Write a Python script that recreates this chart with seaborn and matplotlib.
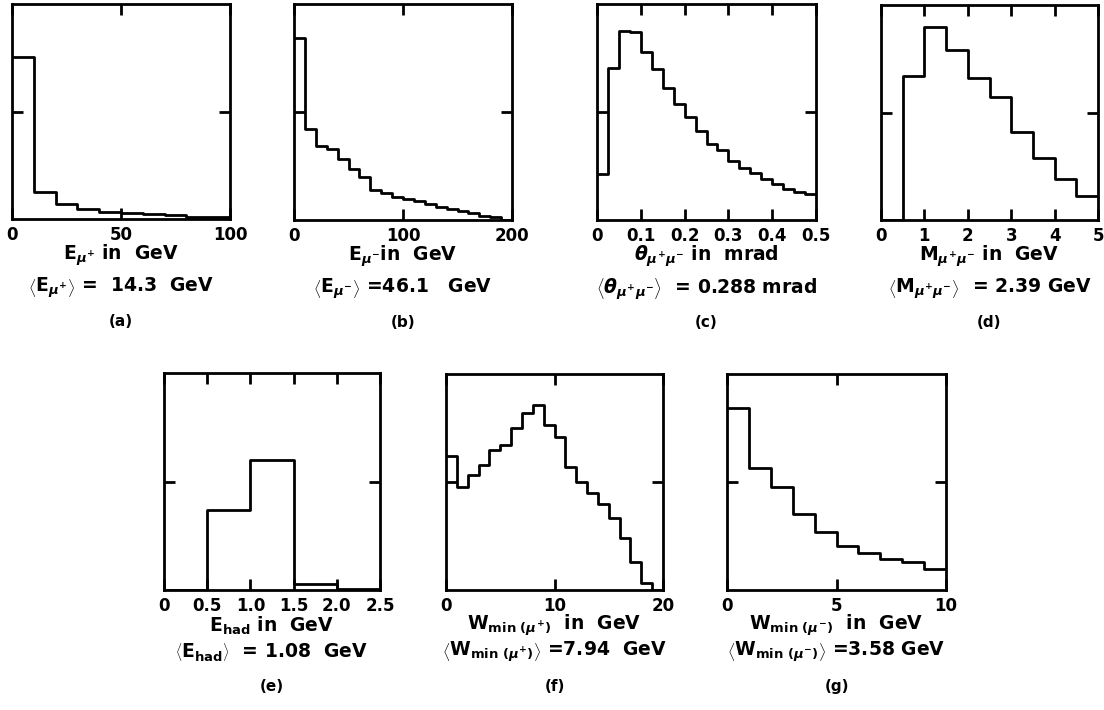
import numpy as np
import pandas as pd
import matplotlib
matplotlib.use("Agg")
import matplotlib.pyplot as plt
import seaborn as sns

# bin edges and (relative) bin contents, frame height = 100
a_edges = [0, 10, 20, 30, 40, 50, 60, 70, 80, 90, 100]
a_counts = [75.5, 12.5, 6.8, 4.5, 3.4, 2.6, 2.3, 1.9, 0.9, 0.7]

b_edges = [0, 10, 20, 30, 40, 50, 60, 70, 80, 90, 100,
           110, 120, 130, 140, 150, 160, 170, 180, 190, 200]
b_counts = [84.1, 42.0, 34.4, 32.7, 28.4, 23.8, 20.1, 13.7, 12.7, 10.8,
            9.7, 8.8, 7.4, 6.2, 4.9, 4.0, 3.1, 2.0, 1.2, 0]

c_edges = [0, 0.025, 0.05, 0.075, 0.1, 0.125, 0.15, 0.175, 0.2, 0.225, 0.25,
           0.275, 0.3, 0.325, 0.35, 0.375, 0.4, 0.425, 0.45, 0.475, 0.5]
c_counts = [21.3, 70.2, 87.7, 87.0, 77.9, 69.9, 61.1, 53.5, 47.5, 41.2,
            35.0, 32.4, 27.2, 24.2, 21.6, 18.8, 16.5, 14.5, 13.1, 12.0]

d_edges = [0, 0.5, 1, 1.5, 2, 2.5, 3, 3.5, 4, 4.5, 5]
d_counts = [0, 66.8, 89.8, 79.2, 66.0, 57.1, 40.7, 28.7, 19.3, 11.3]

e_edges = [0, 0.5, 1.0, 1.5, 2.0, 2.5]
e_counts = [0, 36.9, 60.0, 2.8, 0.5]

f_edges = list(range(0, 21))
f_counts = [62.2, 47.5, 53.1, 58.0, 64.8, 67.1, 75.0, 81.8, 85.5, 76.5,
            70.7, 56.8, 50.0, 44.8, 40.0, 33.5, 23.9, 13.1, 3.1, 0]

g_edges = list(range(0, 11))
g_counts = [84.1, 56.6, 47.7, 35.0, 26.9, 20.5, 17.2, 14.4, 13.1, 9.7]

a_ticks, a_labels = [0, 50, 100], ["0", "50", "100"]
b_ticks, b_labels = [0, 100, 200], ["0", "100", "200"]
c_ticks = [0, 0.1, 0.2, 0.3, 0.4, 0.5]
c_labels = ["0", "0.1", "0.2", "0.3", "0.4", "0.5"]
d_ticks = [0, 1, 2, 3, 4, 5]
d_labels = ["0", "1", "2", "3", "4", "5"]
e_ticks = [0, 0.5, 1.0, 1.5, 2.0, 2.5]
e_labels = ["0", "0.5", "1.0", "1.5", "2.0", "2.5"]
f_ticks, f_labels = [0, 10, 20], ["0", "10", "20"]
g_ticks, g_labels = [0, 5, 10], ["0", "5", "10"]

xlabels = [
    r"$\mathrm{E}_{\mu^{+}}$ in  GeV",
    r"$\mathrm{E}_{\mu^{-}}$in  GeV",
    r"$\theta_{\mu^{+}\mu^{-}}$ in  mrad",
    r"$\mathrm{M}_{\mu^{+}\mu^{-}}$ in  GeV",
    r"$\mathrm{E}_{\mathrm{had}}$ in  GeV",
    r"$\mathrm{W}_{\mathrm{min}\ (\mu^{+})}$  in  GeV",
    r"$\mathrm{W}_{\mathrm{min}\ (\mu^{-})}$  in  GeV",
]
means = [
    r"$\left\langle\mathrm{E}_{\mu^{+}}\right\rangle$ =  14.3  GeV",
    r"$\left\langle\mathrm{E}_{\mu^{-}}\right\rangle$ =46.1   GeV",
    r"$\left\langle\theta_{\mu^{+}\mu^{-}}\right\rangle$  = 0.288 mrad",
    r"$\left\langle\mathrm{M}_{\mu^{+}\mu^{-}}\right\rangle$  = 2.39 GeV",
    r"$\left\langle\mathrm{E}_{\mathrm{had}}\right\rangle$  = 1.08  GeV",
    r"$\left\langle\mathrm{W}_{\mathrm{min}\ (\mu^{+})}\right\rangle$ =7.94  GeV",
    r"$\left\langle\mathrm{W}_{\mathrm{min}\ (\mu^{-})}\right\rangle$ =3.58 GeV",
]
letters = ["(a)", "(b)", "(c)", "(d)", "(e)", "(f)", "(g)"]

panels = [
    (a_edges, a_counts, a_ticks, a_labels),
    (b_edges, b_counts, b_ticks, b_labels),
    (c_edges, c_counts, c_ticks, c_labels),
    (d_edges, d_counts, d_ticks, d_labels),
    (e_edges, e_counts, e_ticks, e_labels),
    (f_edges, f_counts, f_ticks, f_labels),
    (g_edges, g_counts, g_ticks, g_labels),
]

# frame boxes in pixels: left, right, top, bottom
boxes = [(12, 230, 4, 219), (294, 512, 4, 220), (597, 816, 4, 220),
         (881, 1098, 5, 220), (164, 380, 373, 590), (446, 663, 374, 590),
         (727, 946, 374, 590)]

sns.set_style("ticks")
plt.rcParams["font.family"] = ["DejaVu Sans"]
plt.rcParams["font.weight"] = "bold"
plt.rcParams["text.color"] = "black"
plt.rcParams["xtick.color"] = "black"
plt.rcParams["ytick.color"] = "black"
plt.rcParams["mathtext.fontset"] = "custom"
plt.rcParams["mathtext.rm"] = "DejaVu Sans:bold"
plt.rcParams["mathtext.it"] = "DejaVu Sans:italic:bold"
plt.rcParams["mathtext.bf"] = "DejaVu Sans:bold"

W, H = 1104, 710
fig = plt.figure(figsize=(W / 100, H / 100), dpi=100)

for i, (edges, counts, ticks, tlabels) in enumerate(panels):
    l, r, t, b = boxes[i]
    ax = fig.add_axes([l / W, 1 - b / H, (r - l) / W, (b - t) / H])
    e = np.array(edges, dtype=float)
    df = pd.DataFrame({"x": (e[:-1] + e[1:]) / 2, "w": counts})
    sns.histplot(data=df, x="x", weights="w", bins=list(e), element="step",
                 fill=False, color="black", linewidth=2, ax=ax)
    ax.set_xlim(e[0], e[-1])
    ax.set_ylim(0, 100)
    ax.set_xticks(ticks)
    ax.set_xticklabels(tlabels)
    ax.set_yticks([50])
    ax.set_xlabel("")
    ax.set_ylabel("")
    ax.tick_params(direction="in", length=8, width=2, top=True, right=True,
                   labelleft=False, labelsize=12, pad=5, labelcolor="black")
    for s in ax.spines.values():
        s.set_linewidth(2)
        s.set_color("black")
    if i < 4:
        yl, ym, yt = -0.17, -0.32, -0.475
    else:
        yl, ym, yt = -0.165, -0.285, -0.445
    ax.text(0.5, yl, xlabels[i], transform=ax.transAxes, ha="center",
            va="center", fontsize=13.5)
    ax.text(0.5, ym, means[i], transform=ax.transAxes, ha="center",
            va="center", fontsize=13.5)
    ax.text(0.5, yt, letters[i], transform=ax.transAxes, ha="center",
            va="center", fontsize=11)

fig.savefig("out.png", dpi=100)
